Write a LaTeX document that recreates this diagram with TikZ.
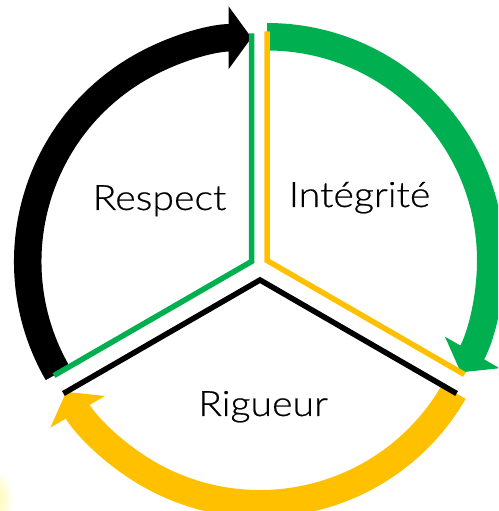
\documentclass[tikz,border=0pt]{standalone}
\usepackage{fontspec}
\setmainfont{Lato Light}[FakeStretch=1.12,FakeBold=0.6]
\usetikzlibrary{arrows.meta}
\definecolor{ogreen}{HTML}{00B050}
\definecolor{ogold}{HTML}{FFC000}
\definecolor{glow}{HTML}{FFF35A}
\begin{document}
\begin{tikzpicture}[x=1pt,y=1pt,
  ring/.style={line width=27.5pt, -{Triangle[length=23pt,width=62pt]}},
  spoke/.style={line width=5.5pt, line join=miter},
  lbl/.style={font=\fontsize{35}{42}\selectfont, anchor=base, inner sep=0pt}]
\useasboundingbox (0,0) rectangle (498,511);
\clip (0,0) rectangle (498,511);
\shade[inner color=glow, outer color=white] (-22,12) circle[radius=36];
\coordinate (c1) at (251.5,249.5);
\coordinate (c2) at (267,250.5);
\coordinate (c3) at (260,231);
% thick circular arrows
\draw[ring, black] ([shift={(210:223.75)}]c1) arc[start angle=210, end angle=90, radius=223.75];
\draw[ring, ogreen] ([shift={(90:223.75)}]c2) arc[start angle=90, end angle=-30, radius=223.75];
\draw[ring, ogold] ([shift={(330:223.75)}]c3) arc[start angle=330, end angle=210, radius=223.75];
% spokes
\draw[spoke, ogreen] ([shift={(90:228)}]c1) -- (c1) -- ([shift={(210:228)}]c1);
\draw[spoke, ogold] ([shift={(90:229)}]c2) -- (c2) -- ([shift={(-30:228)}]c2);
\draw[spoke, black] ([shift={(210:227)}]c3) -- (c3) -- ([shift={(-30:227)}]c3);
% labels
\node[lbl] (respect) at (159.5,301) {Respect};
\node[lbl] (integrite) at (359.5,304) {Intégrité};
\node[lbl] (rigueur) at (263,95) {Rigueur};
\end{tikzpicture}
\end{document}
